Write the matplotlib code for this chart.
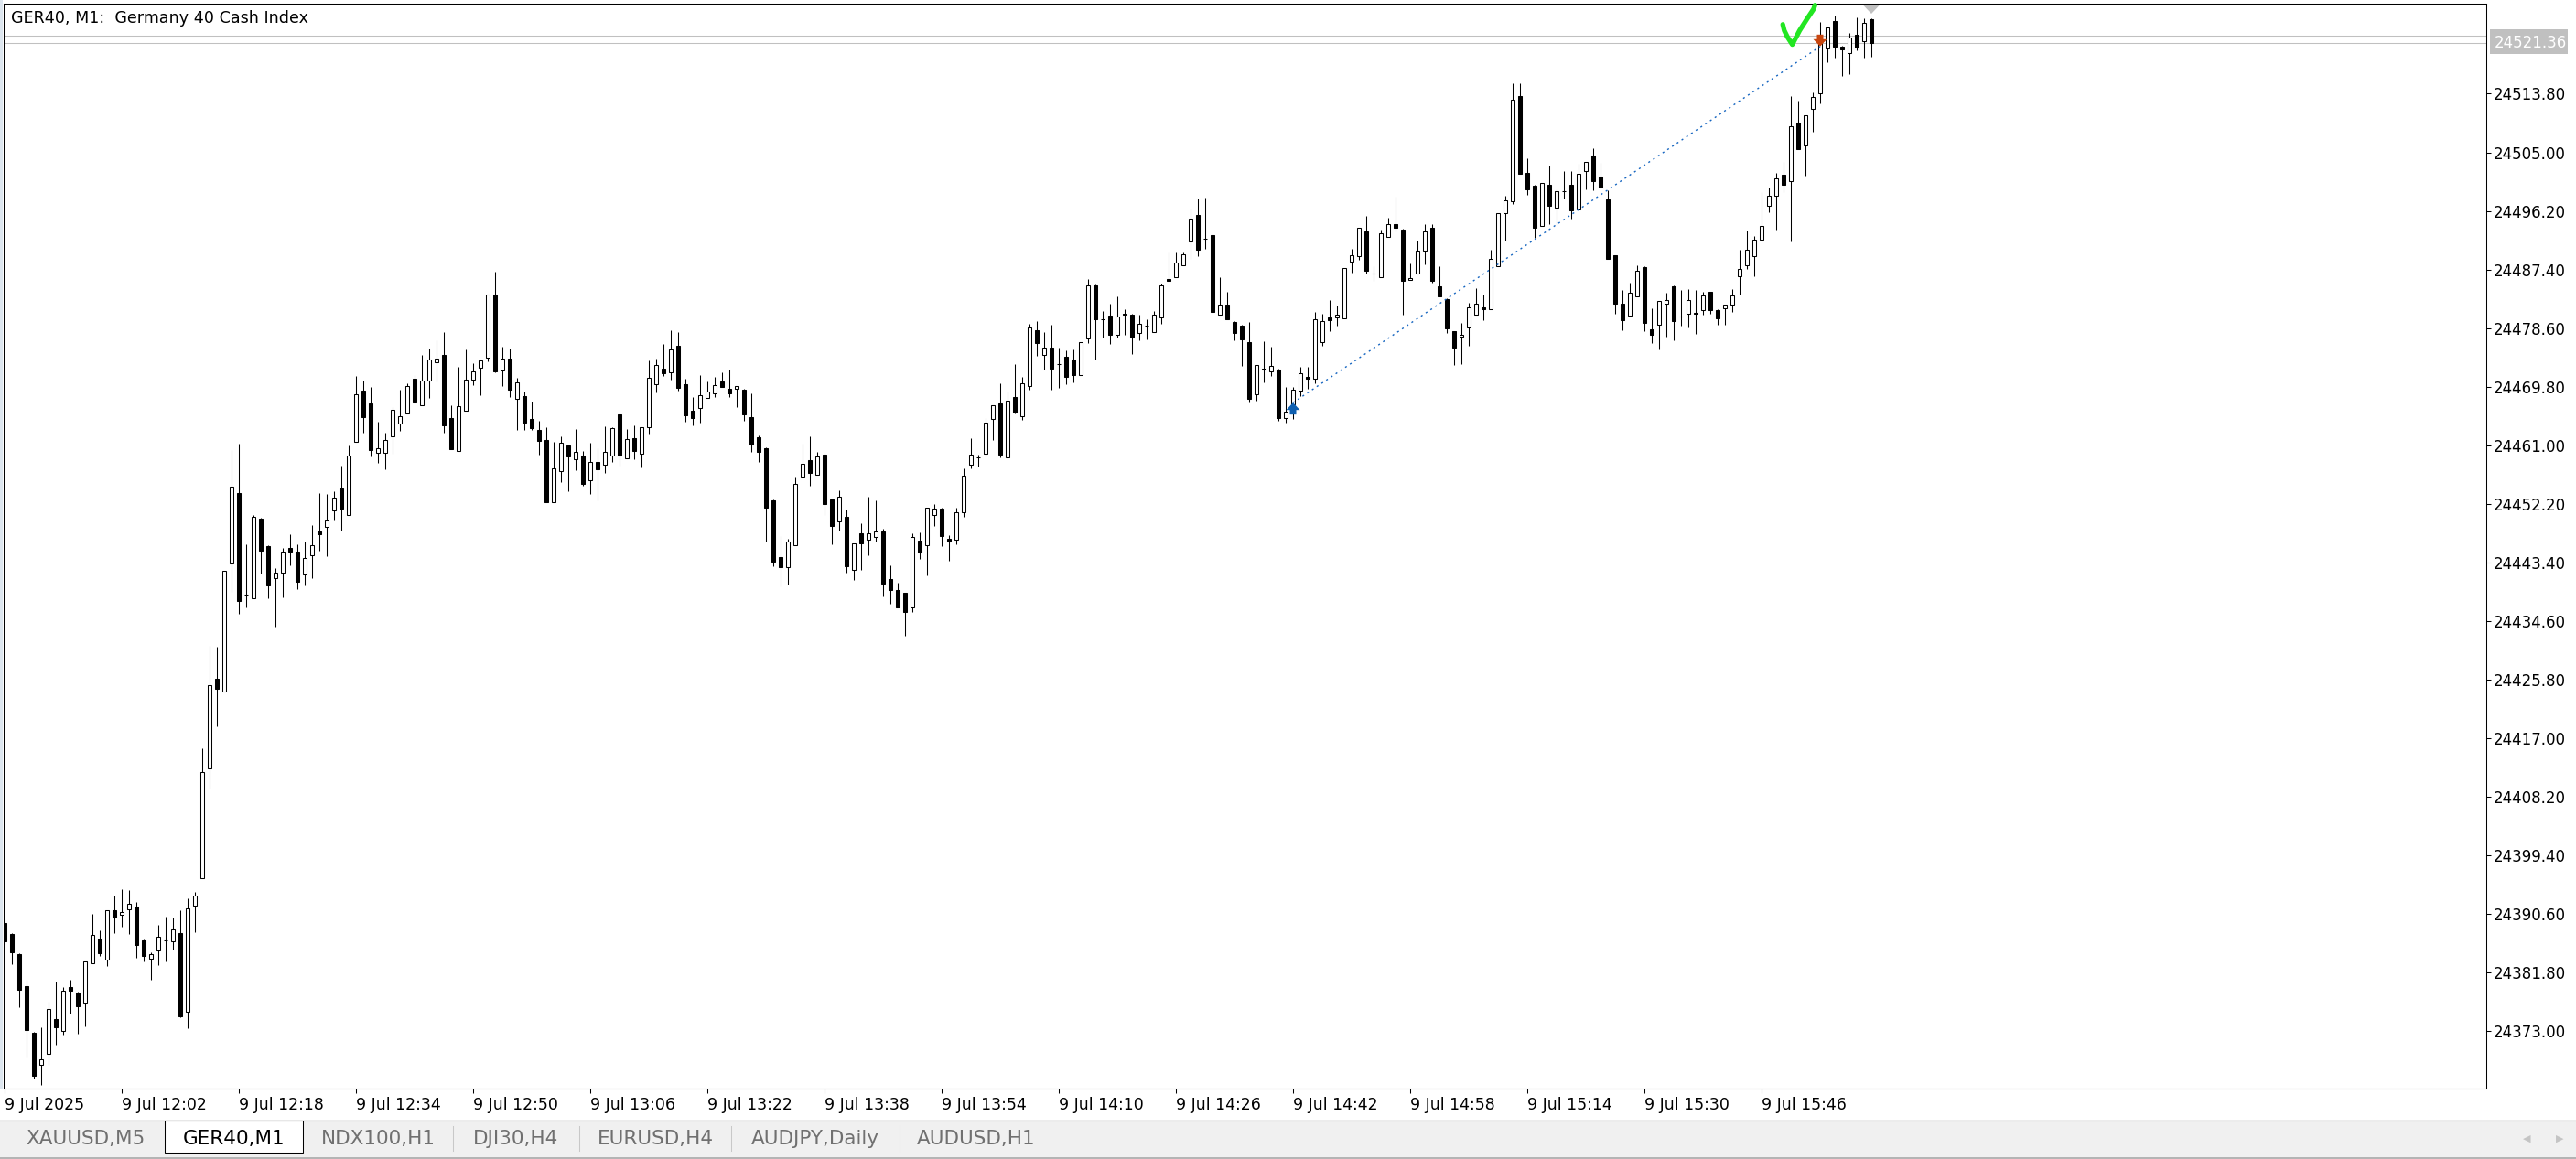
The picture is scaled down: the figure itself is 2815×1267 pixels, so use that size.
import matplotlib
matplotlib.use("Agg")
import matplotlib.pyplot as plt
from matplotlib.patches import Rectangle, Polygon
import numpy as np

# GER40 M1 bars, 9 Jul 2025, one bar per minute starting 11:46
opens = [
    24389.2, 24387.6, 24384.6, 24379.8, 24372.8, 24367.9, 24369.6, 24374.8, 24373.0, 24379.6, 24378.8, 24377.2, 24383.2, 24386.9, 24383.8, 24391.2,
    24390.5, 24391.3, 24391.7, 24386.6, 24383.9, 24385.1, 24386.6, 24386.5, 24387.7, 24375.9, 24391.9, 24396.0, 24412.5, 24425.9, 24424.0, 24443.2,
    24453.8, 24438.6, 24438.0, 24450.0, 24445.9, 24441.0, 24441.9, 24445.6, 24445.0, 24441.6, 24444.5, 24448.1, 24448.7, 24451.2, 24454.5, 24450.5,
    24461.5, 24469.2, 24467.3, 24459.9, 24459.9, 24462.3, 24464.3, 24465.8, 24471.0, 24467.0, 24470.7, 24473.5, 24474.6, 24465.1, 24460.1, 24466.2,
    24470.9, 24472.6, 24474.2, 24483.6, 24472.2, 24474.0, 24468.0, 24468.4, 24465.0, 24463.3, 24461.8, 24452.5, 24457.1, 24461.0, 24458.9, 24459.5,
    24455.7, 24458.5, 24458.1, 24459.5, 24465.6, 24459.0, 24462.1, 24459.7, 24463.7, 24470.2, 24472.5, 24472.0, 24475.9, 24470.2, 24466.2, 24466.6,
    24468.1, 24468.8, 24470.6, 24469.5, 24469.5, 24469.4, 24465.2, 24462.2, 24460.6, 24452.7, 24444.2, 24442.7, 24446.0, 24456.3, 24458.8, 24456.6,
    24459.6, 24452.9, 24449.6, 24450.3, 24442.3, 24447.8, 24446.8, 24447.2, 24448.1, 24440.9, 24439.3, 24438.8, 24436.6, 24446.7, 24446.0, 24450.5,
    24451.5, 24447.0, 24446.8, 24450.9, 24458.1, 24459.2, 24459.7, 24465.0, 24467.3, 24459.2, 24468.3, 24465.4, 24469.9, 24478.3, 24474.6, 24475.7,
    24473.2, 24474.3, 24473.9, 24471.5, 24477.0, 24485.0, 24479.9, 24480.5, 24477.6, 24480.8, 24480.6, 24477.9, 24479.0, 24478.0, 24480.2, 24486.0,
    24486.3, 24488.0, 24491.6, 24495.6, 24492.0, 24492.6, 24480.6, 24482.1, 24479.5, 24479.0, 24476.5, 24468.7, 24472.5, 24472.1, 24472.4, 24465.1,
    24467.2, 24469.2, 24471.3, 24471.0, 24476.5, 24480.2, 24480.2, 24480.1, 24488.6, 24489.4, 24493.1, 24486.8, 24486.3, 24492.3, 24494.2, 24493.4,
    24485.8, 24486.8, 24490.2, 24493.7, 24484.9, 24483.0, 24478.1, 24477.3, 24478.7, 24480.6, 24481.7, 24481.4, 24487.9, 24495.9, 24497.7, 24513.5,
    24501.9, 24500.0, 24493.9, 24500.1, 24496.7, 24499.2, 24500.1, 24496.4, 24502.2, 24504.5, 24501.4, 24497.9, 24489.5, 24482.3, 24480.5, 24483.4,
    24487.8, 24478.4, 24479.1, 24482.3, 24484.9, 24480.3, 24480.8, 24480.9, 24481.3, 24484.0, 24481.3, 24481.6, 24482.1, 24486.4, 24488.0, 24489.4,
    24491.9, 24497.0, 24498.5, 24501.6, 24500.7, 24509.5, 24506.0, 24511.5, 24513.9, 24520.6, 24524.7, 24520.9, 24519.9, 24522.7, 24521.7, 24525.0,
]
highs = [
    24389.8, 24387.7, 24384.7, 24380.7, 24372.9, 24373.6, 24377.4, 24380.5, 24379.6, 24380.7, 24378.9, 24383.5, 24390.6, 24388.1, 24391.2, 24393.4,
    24394.3, 24394.2, 24392.4, 24386.7, 24384.8, 24389.0, 24390.2, 24390.1, 24391.2, 24393.0, 24393.9, 24415.5, 24430.9, 24430.7, 24442.1, 24460.3,
    24461.2, 24446.1, 24450.5, 24450.1, 24446.0, 24442.6, 24445.6, 24447.6, 24446.1, 24446.5, 24449.0, 24453.8, 24453.7, 24454.1, 24457.9, 24461.0,
    24471.4, 24470.7, 24469.8, 24464.5, 24462.9, 24466.7, 24469.4, 24470.3, 24471.5, 24474.6, 24475.5, 24476.8, 24478.0, 24467.0, 24472.8, 24475.4,
    24473.3, 24473.7, 24483.6, 24487.1, 24475.8, 24475.5, 24471.1, 24469.1, 24467.6, 24464.7, 24463.7, 24461.5, 24462.3, 24461.1, 24463.4, 24460.1,
    24461.4, 24460.6, 24463.9, 24463.7, 24465.7, 24463.4, 24464.0, 24463.7, 24473.7, 24474.0, 24476.2, 24478.3, 24478.0, 24471.0, 24468.3, 24471.5,
    24470.6, 24471.3, 24472.0, 24472.4, 24469.9, 24469.5, 24468.8, 24462.5, 24460.7, 24452.8, 24447.4, 24447.0, 24456.3, 24461.2, 24462.3, 24460.0,
    24459.9, 24453.0, 24454.2, 24451.4, 24446.3, 24449.3, 24453.3, 24452.7, 24448.5, 24443.0, 24440.4, 24438.9, 24447.8, 24447.9, 24451.6, 24452.2,
    24451.6, 24447.5, 24451.6, 24457.5, 24462.1, 24459.6, 24465.1, 24467.0, 24470.3, 24469.1, 24473.2, 24471.3, 24479.2, 24479.6, 24478.0, 24479.1,
    24475.7, 24475.3, 24475.4, 24476.5, 24486.0, 24485.1, 24481.2, 24482.3, 24483.4, 24481.4, 24480.7, 24480.6, 24479.9, 24481.2, 24485.3, 24490.0,
    24490.0, 24490.0, 24496.6, 24498.1, 24498.2, 24492.7, 24486.3, 24484.0, 24479.6, 24479.1, 24479.5, 24473.1, 24476.6, 24475.8, 24472.5, 24469.8,
    24469.8, 24472.8, 24472.8, 24481.0, 24480.8, 24482.8, 24482.0, 24487.6, 24490.5, 24493.7, 24495.5, 24487.9, 24493.4, 24495.2, 24498.3, 24493.5,
    24488.3, 24491.7, 24494.2, 24494.2, 24487.9, 24483.1, 24478.2, 24479.4, 24482.4, 24484.6, 24483.6, 24490.4, 24495.9, 24498.5, 24515.4, 24515.4,
    24504.1, 24500.1, 24500.4, 24503.0, 24499.4, 24502.2, 24502.2, 24503.3, 24503.6, 24505.6, 24503.4, 24499.3, 24489.6, 24484.3, 24485.4, 24488.0,
    24487.9, 24481.6, 24482.7, 24483.9, 24485.0, 24484.3, 24484.5, 24484.3, 24484.0, 24484.1, 24481.4, 24482.1, 24484.5, 24490.4, 24493.3, 24492.4,
    24499.0, 24499.7, 24501.9, 24503.6, 24513.5, 24512.8, 24510.6, 24514.0, 24524.6, 24523.8, 24525.5, 24521.0, 24522.9, 24525.3, 24525.1, 24525.1,
]
lows = [
    24386.1, 24383.1, 24376.6, 24369.0, 24365.9, 24364.9, 24367.9, 24371.0, 24372.5, 24375.6, 24372.6, 24373.7, 24383.2, 24384.3, 24382.8, 24387.7,
    24388.7, 24387.6, 24384.0, 24383.5, 24380.7, 24382.9, 24383.5, 24385.3, 24375.1, 24373.4, 24387.9, 24396.0, 24409.4, 24418.8, 24424.0, 24439.0,
    24435.7, 24436.6, 24438.0, 24441.7, 24438.0, 24433.8, 24438.2, 24443.0, 24439.4, 24439.9, 24441.0, 24445.2, 24444.3, 24449.7, 24448.2, 24450.5,
    24461.5, 24462.9, 24459.3, 24458.4, 24457.4, 24459.7, 24463.2, 24465.8, 24467.4, 24467.0, 24468.1, 24470.6, 24462.9, 24460.4, 24460.1, 24466.2,
    24470.0, 24468.5, 24473.6, 24472.0, 24469.9, 24468.3, 24463.3, 24463.3, 24463.3, 24459.6, 24452.5, 24452.5, 24455.5, 24454.1, 24457.3, 24454.9,
    24453.7, 24452.7, 24456.8, 24458.5, 24457.9, 24459.0, 24458.9, 24457.7, 24462.8, 24468.9, 24471.4, 24470.9, 24469.2, 24464.5, 24464.0, 24464.4,
    24468.1, 24468.3, 24469.8, 24468.3, 24466.7, 24464.7, 24460.0, 24458.5, 24446.5, 24442.8, 24439.8, 24440.1, 24446.0, 24456.3, 24454.9, 24456.6,
    24450.5, 24446.1, 24448.2, 24441.9, 24440.8, 24442.3, 24444.5, 24446.5, 24438.3, 24437.2, 24436.6, 24432.4, 24436.0, 24443.9, 24441.5, 24448.9,
    24445.9, 24443.7, 24446.1, 24450.3, 24457.5, 24457.8, 24459.3, 24461.8, 24459.2, 24459.2, 24465.8, 24464.8, 24469.4, 24474.4, 24472.4, 24469.4,
    24469.6, 24470.2, 24470.5, 24471.5, 24476.4, 24473.9, 24477.2, 24476.2, 24477.2, 24477.6, 24474.7, 24476.8, 24476.9, 24478.0, 24479.2, 24485.7,
    24486.3, 24488.0, 24489.0, 24489.4, 24490.5, 24481.0, 24480.6, 24479.9, 24476.8, 24472.9, 24467.4, 24467.7, 24470.4, 24471.4, 24464.7, 24464.4,
    24465.0, 24468.4, 24469.5, 24470.3, 24475.9, 24478.1, 24479.0, 24480.1, 24486.9, 24488.9, 24486.8, 24485.7, 24486.3, 24492.3, 24493.1, 24480.6,
    24485.8, 24486.8, 24488.2, 24485.4, 24483.4, 24477.9, 24473.1, 24473.2, 24475.9, 24480.6, 24479.8, 24481.4, 24487.9, 24491.7, 24497.2, 24501.8,
    24498.6, 24492.2, 24493.9, 24494.2, 24494.1, 24498.1, 24495.0, 24496.4, 24499.4, 24499.3, 24499.7, 24489.0, 24480.8, 24478.3, 24480.5, 24483.4,
    24478.1, 24476.4, 24475.4, 24477.3, 24476.8, 24479.0, 24478.7, 24477.7, 24480.6, 24480.8, 24479.1, 24479.1, 24481.0, 24483.6, 24487.5, 24486.4,
    24491.9, 24496.0, 24493.4, 24499.0, 24491.6, 24505.5, 24501.5, 24508.1, 24512.4, 24518.5, 24519.2, 24516.5, 24516.8, 24520.3, 24519.2, 24519.4,
]
closes = [
    24386.5, 24384.8, 24379.2, 24373.2, 24366.3, 24368.8, 24376.3, 24373.6, 24379.1, 24379.1, 24376.7, 24383.5, 24387.5, 24384.7, 24391.2, 24390.1,
    24390.9, 24392.1, 24385.9, 24384.3, 24384.6, 24387.2, 24386.6, 24388.3, 24375.2, 24391.4, 24393.4, 24411.9, 24425.0, 24424.4, 24442.1, 24454.8,
    24437.6, 24438.5, 24450.3, 24445.2, 24439.9, 24441.9, 24445.0, 24445.0, 24440.5, 24444.1, 24446.0, 24447.6, 24449.7, 24453.1, 24451.5, 24459.5,
    24468.7, 24465.2, 24460.3, 24460.6, 24461.8, 24466.3, 24465.4, 24469.9, 24467.4, 24470.7, 24473.9, 24474.0, 24464.0, 24460.4, 24466.9, 24470.9,
    24472.1, 24473.7, 24483.6, 24472.1, 24474.0, 24469.4, 24470.5, 24464.4, 24463.6, 24461.7, 24452.5, 24457.5, 24461.4, 24459.3, 24460.0, 24455.2,
    24458.5, 24457.4, 24460.0, 24463.6, 24459.5, 24461.9, 24460.1, 24463.7, 24471.1, 24473.1, 24471.8, 24475.4, 24469.6, 24465.5, 24465.1, 24468.5,
    24469.1, 24470.0, 24469.8, 24468.8, 24469.9, 24465.6, 24461.1, 24460.0, 24451.6, 24443.5, 24442.7, 24446.5, 24455.2, 24458.2, 24456.8, 24459.3,
    24452.2, 24448.9, 24453.3, 24442.8, 24446.3, 24446.3, 24447.8, 24448.1, 24440.2, 24439.3, 24436.6, 24436.0, 24447.2, 24444.9, 24451.6, 24451.5,
    24447.4, 24446.5, 24450.9, 24456.4, 24459.6, 24459.2, 24464.4, 24467.0, 24459.6, 24467.7, 24465.9, 24470.3, 24478.7, 24476.4, 24475.7, 24472.5,
    24473.2, 24471.3, 24471.5, 24476.5, 24485.0, 24479.9, 24479.9, 24477.6, 24480.3, 24480.6, 24477.2, 24479.2, 24479.0, 24480.6, 24485.0, 24485.7,
    24488.5, 24489.7, 24495.0, 24490.4, 24492.0, 24481.0, 24482.1, 24479.9, 24477.9, 24476.9, 24468.0, 24473.1, 24472.4, 24472.9, 24465.1, 24466.1,
    24469.4, 24471.8, 24471.0, 24479.9, 24479.6, 24479.8, 24480.6, 24487.6, 24489.5, 24493.7, 24487.2, 24486.8, 24492.8, 24494.2, 24493.7, 24485.7,
    24486.1, 24490.2, 24493.1, 24485.7, 24483.4, 24478.6, 24475.7, 24477.6, 24481.7, 24482.3, 24481.4, 24489.0, 24495.9, 24497.8, 24512.9, 24501.8,
    24499.4, 24493.7, 24500.4, 24497.0, 24499.2, 24499.2, 24496.3, 24501.8, 24503.6, 24500.7, 24499.7, 24489.0, 24482.3, 24479.8, 24483.9, 24487.2,
    24479.4, 24477.6, 24482.7, 24482.8, 24479.6, 24480.3, 24482.8, 24480.8, 24483.5, 24481.3, 24480.1, 24482.1, 24483.5, 24487.5, 24490.4, 24491.9,
    24493.9, 24498.5, 24501.1, 24500.1, 24508.9, 24505.5, 24510.6, 24513.3, 24521.7, 24523.8, 24520.9, 24520.5, 24522.3, 24520.7, 24524.4, 24521.36,
]

time_label_bars = [0, 16, 32, 48, 64, 80, 96, 112, 128, 144, 160, 176, 192, 208, 224, 240]
time_labels = ["9 Jul 2025", "9 Jul 12:02", "9 Jul 12:18", "9 Jul 12:34", "9 Jul 12:50", "9 Jul 13:06",
               "9 Jul 13:22", "9 Jul 13:38", "9 Jul 13:54", "9 Jul 14:10", "9 Jul 14:26", "9 Jul 14:42",
               "9 Jul 14:58", "9 Jul 15:14", "9 Jul 15:30", "9 Jul 15:46"]
price_ticks = [24373.00, 24381.80, 24390.60, 24399.40, 24408.20, 24417.00, 24425.80, 24434.60, 24443.40,
               24452.20, 24461.00, 24469.80, 24478.60, 24487.40, 24496.20, 24505.00, 24513.80]

bid_price = 24521.36
ask_price = 24522.48

# closed trade: buy arrow -> sell arrow joined by dotted line
entry_bar, entry_price = 176, 24467.4
exit_bar, exit_price = 248, 24520.9

# hand drawn tick mark (bar, price)
check_path = [(242.9, 24524.2), (243.1, 24523.3), (243.5, 24522.4), (244.2, 24521.2),
              (245.2, 24523.3), (246.25, 24525.1), (247.1, 24526.5), (247.3, 24527.1)]

tabs = ["XAUUSD,M5", "GER40,M1", "NDX100,H1", "DJI30,H4", "EURUSD,H4", "AUDJPY,Daily", "AUDUSD,H1"]
active_tab = 1

W, H = 2815, 1267
fig = plt.figure(figsize=(W / 100, H / 100), dpi=100, facecolor="white")

# chart frame in pixels
AX_L, AX_R, AX_T, AX_B = 4, 2717, 4, 1190
ax = fig.add_axes([AX_L / W, 1 - AX_B / H, (AX_R - AX_L) / W, (AX_B - AX_T) / H], zorder=1)
ax.set_xlim(-0.125, 339.0)
ax.set_ylim(24364.37, 24527.33)

sx = (AX_R - AX_L) / (339.0 + 0.125)          # px per bar
sy = (AX_B - AX_T) / (24527.33 - 24364.37)     # px per point
LW = 0.75

o = np.array(opens)
h = np.array(highs)
l = np.array(lows)
c = np.array(closes)
x = np.arange(len(o))
up = c >= o

ax.vlines(x, l, np.maximum(h, np.maximum(o, c)), color="black", lw=LW, zorder=2)
ax.bar(x, np.abs(c - o), bottom=np.minimum(o, c), width=0.5,
       color=np.where(up, "white", "black"), edgecolor="black", linewidth=LW, zorder=3)

# bid / ask lines
ax.axhline(ask_price, color="#c0c0c0", lw=LW, zorder=1)
ax.axhline(bid_price, color="#c0c0c0", lw=LW, zorder=1)

# trade line + arrows
ax.plot([entry_bar, exit_bar], [entry_price, exit_price], color="#1565c0", lw=1.0,
        ls=(0, (1.5, 3)), zorder=4)


def arrow(xc, tip, direction, color):
    hw, th, sw, sl = 7.5 / sx, 8 / sy, 3.5 / sx, 5 / sy
    d = 1 if direction == "up" else -1
    base = tip - d * th
    pts = [(xc, tip), (xc + hw, base), (xc + sw, base), (xc + sw, base - d * sl),
           (xc - sw, base - d * sl), (xc - sw, base), (xc - hw, base)]
    ax.add_patch(Polygon(pts, closed=True, facecolor=color, edgecolor="none", zorder=5))


arrow(entry_bar, entry_price, "up", "#1060b0")
arrow(exit_bar, exit_price, "down", "#c8460f")

cx, cy = zip(*check_path)
ax.plot(cx, cy, color="#22e622", lw=3.8, solid_capstyle="round", solid_joinstyle="round",
        zorder=6, clip_on=False)

# shift marker at top
ax.add_patch(Polygon([(len(o) - 1 - 9.5 / sx, 1 - 1 / 1186), (len(o) - 1 + 9.5 / sx, 1 - 1 / 1186),
                      (len(o) - 1, 1 - 11 / 1186)], closed=True, facecolor="#c0c0c0",
                     edgecolor="none", transform=ax.get_xaxis_transform(), clip_on=False, zorder=5))

ax.text(8 / (AX_R - AX_L), 1 - 16 / (AX_B - AX_T), "GER40, M1:  Germany 40 Cash Index",
        transform=ax.transAxes, va="center", ha="left", fontsize=12.6, color="black")

# axes styling
for s in ax.spines.values():
    s.set_color("black")
    s.set_linewidth(LW)
ax.yaxis.tick_right()
ax.set_yticks(price_ticks)
ax.set_yticklabels(["%.2f" % p for p in price_ticks])
ax.tick_params(axis="y", direction="out", length=3.6, width=LW, pad=2, labelsize=12,
               left=False, right=True, colors="black")
ax.set_xticks(time_label_bars)
ax.set_xticklabels(time_labels)
ax.tick_params(axis="x", direction="out", length=3.6, width=LW, pad=3, labelsize=12.5, colors="black")
for lbl in ax.get_xticklabels():
    lbl.set_horizontalalignment("left")

# current price label on the scale (ask label sits behind it)
ytr = ax.get_yaxis_transform()
bw = 85 / (AX_R - AX_L)
bx = 1 + 4 / (AX_R - AX_L)
ax.add_patch(Rectangle((bx, bid_price - 12 / sy), bw, 27 / sy, transform=ytr, facecolor="#c0c0c0",
                       edgecolor="none", clip_on=False, zorder=5))
ax.text(bx + 5 / (AX_R - AX_L), bid_price, "%.2f" % bid_price, transform=ytr, color="white",
        fontsize=12, va="center", ha="left", clip_on=False, zorder=6)

# window chrome: tab bar
ui = fig.add_axes([0, 0, 1, 1], zorder=0)
ui.set_xlim(0, W)
ui.set_ylim(H, 0)
ui.axis("off")
ui.add_patch(Rectangle((0, 1224), W, 43, facecolor="#f0f0f0", edgecolor="none"))
ui.plot([0, W], [1224.5, 1224.5], color="#4a4a4a", lw=LW)
ui.plot([0, W], [1265.5, 1265.5], color="#a8a8a8", lw=1.2)
ui.add_patch(Rectangle((0, 0), 3, 1190, facecolor="#dde6ef", edgecolor="none"))

tab_edges = [0, 180, 331, 495, 633, 799, 983, 1150]
for k, name in enumerate(tabs):
    x0, x1 = tab_edges[k], tab_edges[k + 1]
    if k == active_tab:
        ui.add_patch(Rectangle((x0, 1224.5), x1 - x0, 35, facecolor="white", edgecolor="black", lw=LW))
    if k >= active_tab + 2:
        ui.plot([x0, x0], [1231, 1258], color="#c8c8c8", lw=LW)
    ui.text((x0 + x1) / 2 + (3 if k == 0 else 0), 1245, name, ha="center", va="center", fontsize=15.5,
            color="black" if k == active_tab else "#707070")

ui.text(2761, 1245, "\u25c0", ha="center", va="center", fontsize=8, color="#c4c4c4")
ui.text(2797, 1245, "\u25b6", ha="center", va="center", fontsize=8, color="#c4c4c4")

fig.savefig("out.png", dpi=100, facecolor="white")
